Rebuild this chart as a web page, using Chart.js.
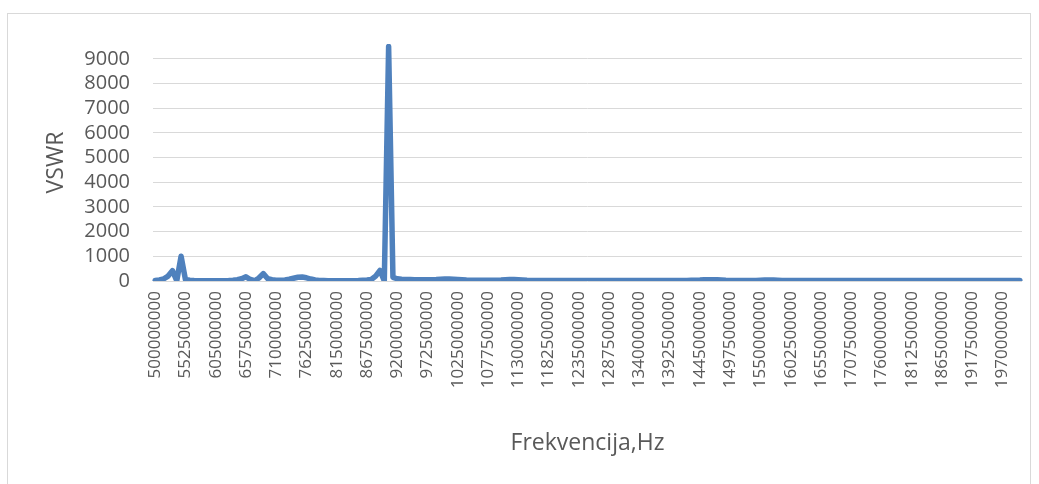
<!DOCTYPE html>
<html>
<head>
<meta charset="utf-8">
<script src="https://cdn.jsdelivr.net/npm/chart.js@4"></script>
<style>
  html, body { margin: 0; padding: 0; background: #fff; }
  #wrap { position: relative; width: 1039px; height: 484px; overflow: hidden; }
  #frame { position: absolute; left: 7px; top: 13px; width: 1024px; height: 490px; border: 1px solid #d9d9d9; box-sizing: border-box; }
  canvas { position: absolute; left: 0; top: 0; }
</style>
</head>
<body>
<div id="wrap">
  <div id="frame"></div>
  <canvas id="vswrChart" width="1039" height="484"></canvas>
</div>
<script>
// frequency sweep 500 MHz .. 2000 MHz, 7.5 MHz step
const startHz = 500000000;
const stepHz = 7500000;
const pointCount = 201;
const frequencies = Array.from({ length: pointCount }, (_, i) => String(startHz + i * stepHz));

// VSWR
const vswr = [
  20, 40, 90, 200, 420, 10, 1000, 60, 30, 20,
  15, 15, 15, 15, 15, 15, 15, 20, 30, 50,
  90, 170, 60, 10, 120, 300, 100, 50, 35, 30,
  45, 70, 110, 150, 160, 130, 80, 40, 25, 20,
  15, 15, 15, 15, 15, 15, 15, 20, 30, 40,
  60, 200, 430, 5, 9500, 150, 90, 70, 60, 60,
  55, 55, 50, 50, 55, 60, 70, 80, 80, 70,
  60, 50, 40, 35, 30, 30, 30, 30, 30, 35,
  40, 50, 60, 60, 50, 40, 30, 25, 25, 25,
  25, 25, 20, 20, 20, 20, 20, 20, 20, 20,
  20, 20, 20, 20, 20, 20, 20, 20, 20, 20,
  20, 20, 20, 20, 20, 20, 20, 20, 20, 20,
  20, 20, 20, 25, 30, 35, 40, 50, 55, 55,
  50, 40, 30, 25, 20, 20, 20, 20, 20, 20,
  30, 40, 45, 40, 30, 20, 20, 20, 20, 20,
  20, 20, 20, 20, 20, 20, 20, 20, 20, 20,
  20, 20, 20, 20, 20, 20, 20, 20, 20, 20,
  20, 20, 20, 20, 20, 20, 20, 20, 20, 20,
  20, 20, 20, 20, 20, 20, 20, 20, 20, 20,
  20, 20, 20, 20, 20, 20, 20, 20, 20, 20,
  20
];

const labelEvery = 7;   // every 7th frequency is labelled
const yMax = 9600;
const yTicks = [0, 1000, 2000, 3000, 4000, 5000, 6000, 7000, 8000, 9000];

const textColor = '#595959';
const fontFamily = '"Open Sans", "Noto Sans", sans-serif';

const ctx = document.getElementById('vswrChart').getContext('2d');
new Chart(ctx, {
  type: 'line',
  data: {
    labels: frequencies,
    datasets: [{
      label: 'VSWR',
      data: vswr,
      borderColor: '#4f81bd',
      borderWidth: 5.5,
      borderJoinStyle: 'round',
      borderCapStyle: 'round',
      pointRadius: 0,
      tension: 0,
      fill: false
    }]
  },
  options: {
    responsive: false,
    animation: false,
    devicePixelRatio: 1,
    layout: {
      padding: { left: 0, top: 44, right: 17, bottom: 13 }
    },
    plugins: {
      legend: { display: false },
      tooltip: { enabled: false }
    },
    scales: {
      x: {
        type: 'category',
        offset: true,
        grid: { display: false, drawTicks: false },
        border: { display: false },
        ticks: {
          autoSkip: false,
          minRotation: 90,
          maxRotation: 90,
          padding: 10,
          color: textColor,
          font: { family: fontFamily, size: 17 },
          callback: (value, index) => index % labelEvery === 0 ? frequencies[index] : null
        },
        title: {
          display: true,
          text: 'Frekvencija,Hz',
          color: textColor,
          font: { family: fontFamily, size: 23 },
          padding: { top: 14, bottom: 14 }
        },
        afterFit: (scale) => { scale.height = 190; }
      },
      y: {
        min: 0,
        max: yMax,
        grid: { color: '#d9d9d9', lineWidth: 1, drawTicks: false },
        border: { display: false },
        ticks: {
          autoSkip: false,
          padding: 23,
          color: textColor,
          font: { family: fontFamily, size: 20 },
          callback: (value) => String(value)
        },
        afterBuildTicks: (scale) => {
          scale.ticks = yTicks.map(v => ({ value: v }));
        },
        title: {
          display: true,
          text: 'VSWR',
          color: textColor,
          font: { family: fontFamily, size: 23 },
          padding: { top: 43, bottom: 43 }
        },
        afterFit: (scale) => { scale.width = 153; }
      }
    }
  }
});
</script>
</body>
</html>
